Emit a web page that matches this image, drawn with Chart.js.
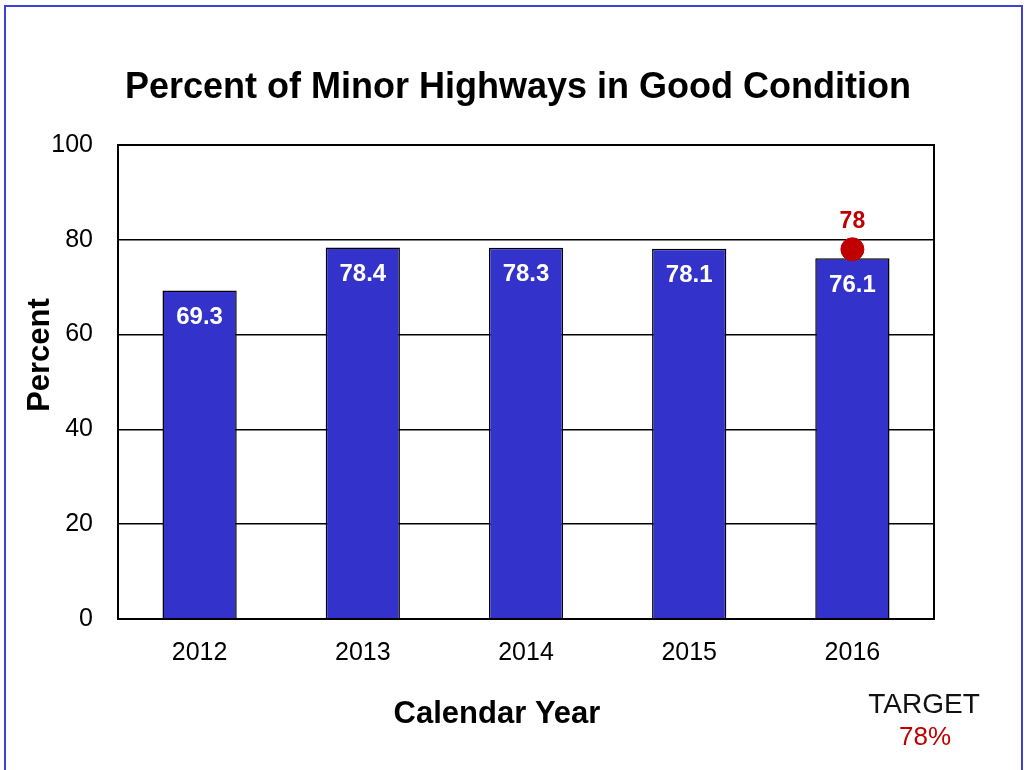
<!DOCTYPE html>
<html>
<head>
<meta charset="utf-8">
<script src="https://cdn.jsdelivr.net/npm/chart.js@4.4.0/dist/chart.umd.min.js"></script>
<style>
html,body{margin:0;padding:0;background:#fff;font-family:"Liberation Sans";}
#wrap{position:relative;width:1028px;height:770px;}
canvas{display:block;}
</style>
</head>
<body>
<div id="wrap"><canvas id="c" width="1028" height="770"></canvas></div>
<script>
const categories = ['2012', '2013', '2014', '2015', '2016'];
const percentGood = [69.3, 78.4, 78.3, 78.1, 76.1];
const targetValues = [null, null, null, null, 78];
const yTicks = [0, 20, 40, 60, 80, 100];
const titleText = 'Percent of Minor Highways in Good Condition';
const xTitle = 'Calendar Year';
const yTitle = 'Percent';
const targetLabel = 'TARGET';
const targetText = '78%';

const FONT = '"Liberation Sans", Arial, Helvetica, sans-serif';
Chart.defaults.font.family = FONT;

const decor = {
  id: 'decor',
  beforeDraw(chart) {
    const ctx = chart.ctx;
    ctx.save();
    ctx.fillStyle = '#fff';
    ctx.fillRect(0, 0, chart.width, chart.height);
    ctx.restore();
  },
  afterDatasetsDraw(chart) {
    const ctx = chart.ctx;
    const ca = chart.chartArea;
    ctx.save();
    ctx.strokeStyle = '#000';
    ctx.lineWidth = 2;
    ctx.strokeRect(ca.left, ca.top, ca.right - ca.left, ca.bottom - ca.top);
    ctx.textAlign = 'center';
    ctx.textBaseline = 'middle';
    // title
    ctx.fillStyle = '#000';
    ctx.font = 'bold 36px ' + FONT;
    ctx.fillText(titleText, 518, 88);
    // bar labels
    const meta = chart.getDatasetMeta(0);
    ctx.fillStyle = '#fff';
    ctx.font = 'bold 24px ' + FONT;
    meta.data.forEach((bar, i) => {
      ctx.fillText(percentGood[i].toFixed(1), bar.x, bar.y + 27);
    });
    const m2 = chart.getDatasetMeta(1);
    ctx.fillStyle = '#C00000';
    ctx.font = 'bold 23px ' + FONT;
    m2.data.forEach((pt, i) => {
      if (targetValues[i] !== null) ctx.fillText(String(targetValues[i]), pt.x, pt.y - 28);
    });
    ctx.fillStyle = '#000';
    ctx.font = 'bold 31px ' + FONT;
    ctx.fillText(xTitle, 497, 714);
    ctx.save();
    ctx.translate(40, 355);
    ctx.rotate(-Math.PI / 2);
    ctx.fillText(yTitle, 0, 0);
    ctx.restore();
    ctx.font = '28px ' + FONT;
    ctx.fillStyle = '#111';
    ctx.fillText(targetLabel, 924, 705);
    ctx.fillStyle = '#C00000';
    ctx.font = '26px ' + FONT;
    ctx.fillText(targetText, 925, 738);
    ctx.strokeStyle = '#4040D8';
    ctx.lineWidth = 2;
    ctx.strokeRect(5, 6, 1017, 800);
    ctx.restore();
  }
};

new Chart(document.getElementById('c'), {
  data: {
    labels: categories,
    datasets: [
      {
        type: 'bar',
        data: percentGood,
        backgroundColor: '#3333CC',
        borderColor: '#000',
        borderWidth: 1.5,
        barPercentage: 0.455,
        categoryPercentage: 1,
        order: 2
      },
      {
        type: 'line',
        data: targetValues,
        showLine: false,
        pointRadius: 11.5,
        pointHoverRadius: 11.5,
        pointBackgroundColor: '#C00000',
        pointBorderColor: '#C00000',
        order: 1
      }
    ]
  },
  options: {
    responsive: false,
    animation: false,
    layout: { padding: { left: 0, right: 94, top: 145, bottom: 0 } },
    plugins: {
      legend: { display: false },
      tooltip: { enabled: false },
      title: { display: false }
    },
    scales: {
      x: {
        grid: { display: false, drawTicks: false },
        border: { display: false },
        ticks: { color: '#000', font: { family: FONT, size: 25 }, padding: 19 },
        afterFit(s) { s.height = 151; }
      },
      y: {
        min: 0, max: 100,
        afterBuildTicks(s) { s.ticks = yTicks.map(v => ({ value: v })); },
        grid: { color: '#000', lineWidth: 1.5, drawTicks: false },
        border: { display: false },
        ticks: { color: '#000', font: { family: FONT, size: 25 }, padding: 25 },
        afterFit(s) { s.width = 118; }
      }
    }
  },
  plugins: [decor]
});
</script>
</body>
</html>
